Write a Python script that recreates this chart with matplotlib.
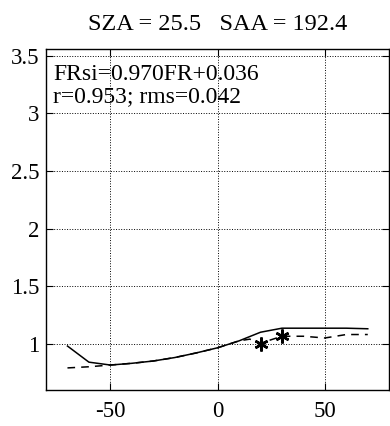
import matplotlib
matplotlib.use("Agg")
import matplotlib.pyplot as plt

plt.rcParams['font.family'] = ['Liberation Serif', 'DejaVu Serif']
plt.rcParams['axes.unicode_minus'] = False

# solid line (FR)
solid_x = [-70, -60, -50, -40, -30, -20, -10, 0, 10, 20, 30, 40, 50, 60, 70]
solid_y = [0.98, 0.84, 0.815, 0.83, 0.85, 0.88, 0.92, 0.965, 1.025, 1.10, 1.135, 1.135, 1.135, 1.135, 1.13]

# dashed line (FRsi)
dash_x = [-70, -60, -50, -40, -30, -20, -10, 0, 10, 15, 20, 30, 40, 50, 60, 70]
dash_y = [0.79, 0.80, 0.815, 0.83, 0.85, 0.88, 0.92, 0.965, 1.025, 1.04, 1.005, 1.065, 1.065, 1.05, 1.08, 1.08]

# star markers
star_x = [20, 30]
star_y = [1.00, 1.065]

title = "SZA = 25.5   SAA = 192.4"
fit_text = "FRsi=0.970FR+0.036\nr=0.953; rms=0.042"

fig = plt.figure(figsize=(3.9, 4.26), dpi=100)
ax = fig.add_axes([0.118, 0.085, 0.88, 0.80])

ax.plot(solid_x, solid_y, color='black', lw=1.1)
ax.plot(dash_x, dash_y, color='black', lw=1.1, ls=(0, (5, 4)))
ax.plot(star_x, star_y, ls='none', marker=(6, 2, 0), ms=10, mew=1.8, color='black')

ax.set_xlim(-80, 80)
ax.set_ylim(0.6, 3.56)
ax.set_xticks([-50, 0, 50])
ax.set_yticks([1, 1.5, 2, 2.5, 3, 3.5])
ax.set_yticklabels(['1', '1.5', '2', '2.5', '3', '3.5'])
ax.tick_params(direction='in', labelsize=16.5, top=True, right=True, length=5)
ax.tick_params(axis='x', pad=8)
ax.tick_params(axis='y', pad=5)
ax.grid(True, ls=':', color='black', lw=0.7)
for s in ax.spines.values():
    s.set_linewidth(1.0)

ax.set_title(title, fontsize=17.5, pad=14)
ax.text(0.02, 0.955, fit_text, transform=ax.transAxes, fontsize=17,
        va='top', ha='left', linespacing=1.05)

fig.savefig("out.png", dpi=100)
